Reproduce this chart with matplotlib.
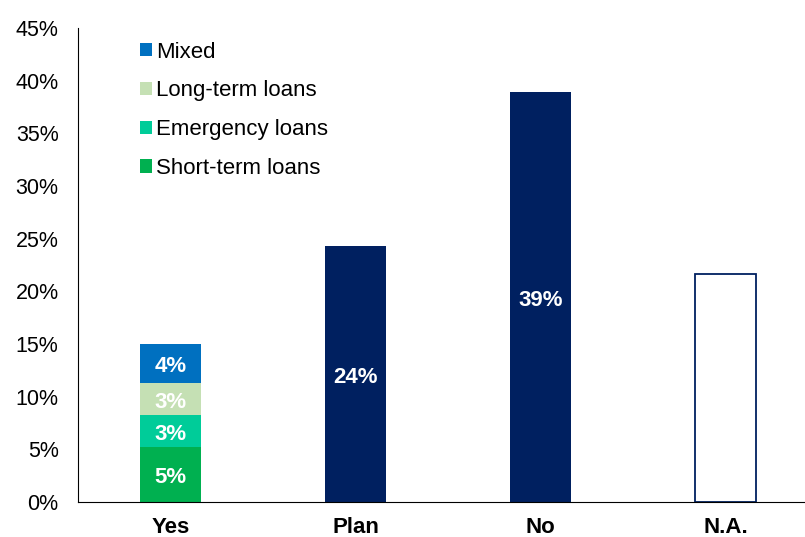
import matplotlib
matplotlib.use("Agg")
import matplotlib.pyplot as plt
from matplotlib.patches import Patch

categories = ["Yes", "Plan", "No", "N.A."]
yes_series = ["Short-term loans", "Emergency loans", "Long-term loans", "Mixed"]
yes_values = [5.2, 3.05, 3.05, 3.7]
yes_labels = ["5%", "3%", "3%", "4%"]
yes_colors = ["#00B050", "#00CC99", "#C5E0B4", "#0070C0"]
other_values = [24.3, 38.9, 21.65]
other_labels = ["24%", "39%", None]
yticks = [0, 5, 10, 15, 20, 25, 30, 35, 40, 45]

plt.rcParams['font.family'] = ['Liberation Sans', 'DejaVu Sans']
fig = plt.figure(figsize=(8.05, 5.37), dpi=100)
ax = fig.add_axes([78/805, 35/537, 740/805, 474/537])

width = 0.335
bottom = 0
for name, v, lab, c in zip(yes_series, yes_values, yes_labels, yes_colors):
    ax.bar(0, v, width, bottom=bottom, color=c, label=name)
    ax.annotate(lab, (0, bottom + v/2), xytext=(0, -2.2), textcoords='offset points',
                ha='center', va='center', color='white', fontsize=16, fontweight='bold')
    bottom += v

navy = "#002060"
for i, (v, lab) in enumerate(zip(other_values, other_labels), start=1):
    if lab is None:
        ax.bar(i, v, width, facecolor='white', edgecolor=navy, linewidth=1.3)
    else:
        ax.bar(i, v, width, color=navy)
        ax.annotate(lab, (i, v/2), xytext=(0, -2.2), textcoords='offset points',
                    ha='center', va='center', color='white', fontsize=16, fontweight='bold')

ax.set_xlim(-0.5, 3.5)
ax.set_ylim(0, 45)
ax.set_yticks(yticks)
ax.set_yticklabels([f"{t}%" for t in yticks], fontsize=15.5)
ax.set_xticks(range(len(categories)))
ax.set_xticklabels(categories, fontsize=16, fontweight='bold')
ax.tick_params(axis='both', length=0)
ax.tick_params(axis='x', pad=10.5)
ax.tick_params(axis='y', pad=14)
for s in ['top', 'right']:
    ax.spines[s].set_visible(False)
ax.spines['left'].set_color('black')
ax.spines['bottom'].set_color('black')

handles = [Patch(facecolor=c, label=n) for n, c in zip(yes_series, yes_colors)][::-1]
leg = ax.legend(handles=handles, loc='upper left', bbox_to_anchor=(53/740, 0.99),
                frameon=False, fontsize=16, handlelength=0.54, handleheight=0.54,
                handletextpad=0.2, labelspacing=0.8, borderaxespad=0)

fig.savefig("out.png", dpi=100)
